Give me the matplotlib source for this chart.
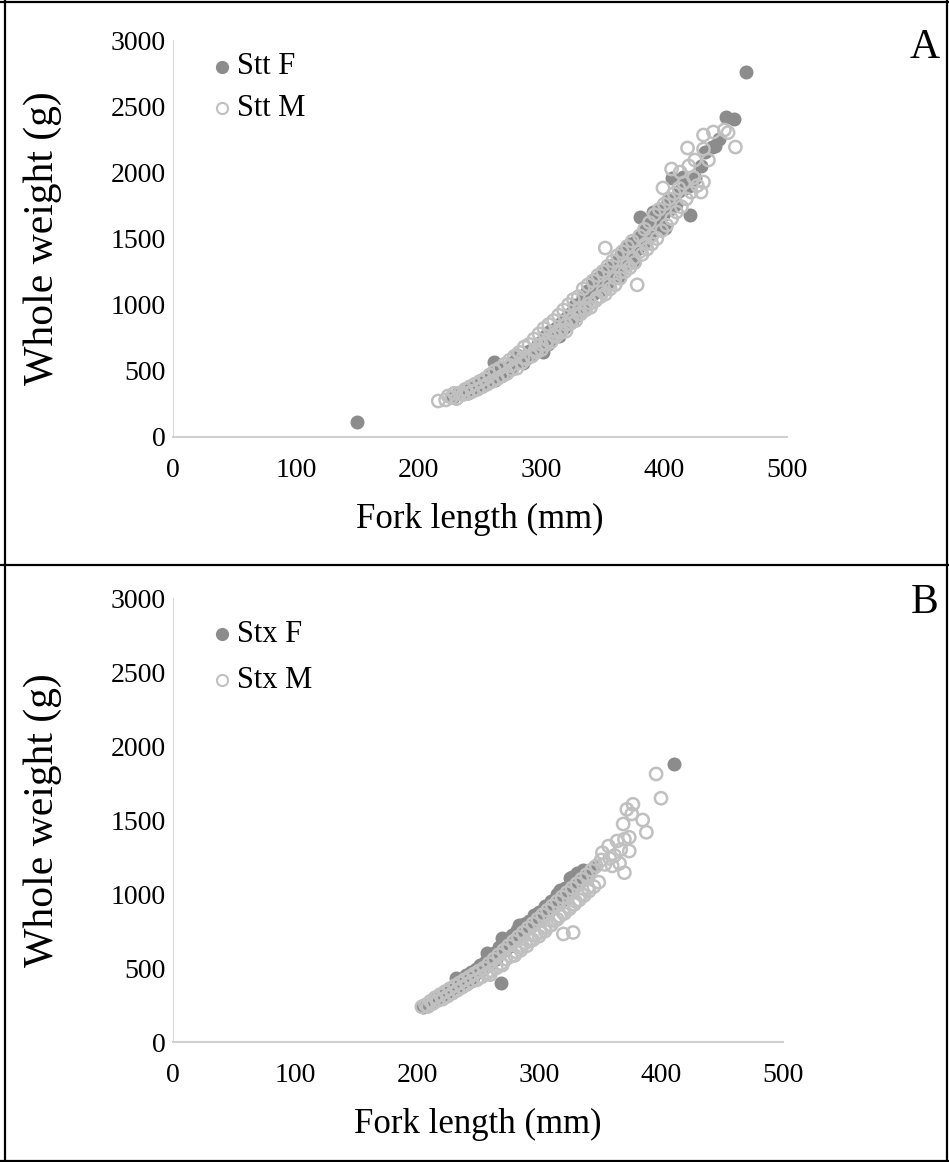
import matplotlib.pyplot as plt
from matplotlib.lines import Line2D

# ============================
# DATOS
# ============================
# Panel A - Stt hembras (F): (longitud furcal mm, peso g)
stt_f = [(150, 110), (228, 300), (232, 330), (236, 345), (240, 330), (243, 370), (246, 360),
         (250, 420), (253, 390), (256, 440), (258, 470), (261, 565), (262, 430), (265, 480),
         (268, 470), (270, 520), (272, 500), (275, 560), (277, 540), (280, 620), (282, 580),
         (285, 560), (287, 600), (290, 650), (292, 620), (295, 660), (297, 700), (300, 720),
         (301, 640), (303, 760), (305, 700), (307, 800), (308, 740), (310, 780), (312, 820),
         (314, 760), (316, 860), (318, 820), (320, 900), (322, 860), (324, 940), (325, 880),
         (327, 1000), (329, 920), (330, 960), (332, 1010), (334, 1060), (335, 980), (337, 1100),
         (338, 1040), (340, 1120), (342, 1080), (343, 1180), (345, 1140), (346, 1200), (348, 1100),
         (350, 1240), (351, 1160), (353, 1220), (355, 1280), (356, 1180), (358, 1300), (360, 1260),
         (362, 1340), (363, 1220), (365, 1380), (367, 1300), (368, 1420), (370, 1360), (372, 1460),
         (374, 1400), (375, 1320), (377, 1480), (378, 1420), (380, 1660), (381, 1520), (383, 1460),
         (385, 1580), (387, 1520), (389, 1640), (390, 1560), (391, 1700), (393, 1620), (395, 1600),
         (397, 1720), (399, 1680), (401, 1580), (403, 1780), (405, 1720), (406, 1957), (408, 1800),
         (410, 1760), (412, 1860), (415, 1964), (417, 1880), (420, 1900), (421, 1677), (425, 1960),
         (430, 2050), (433, 2150), (439, 2191), (441, 2200), (445, 2250), (450, 2420), (457, 2400),
         (467, 2760)]

# Panel A - Stt machos (M)
stt_m = [(216, 272), (222, 280), (224, 310), (227, 300), (229, 330), (231, 290), (234, 335),
         (236, 320), (238, 360), (240, 330), (242, 380), (244, 345), (246, 400), (248, 360),
         (250, 420), (252, 380), (254, 440), (256, 400), (258, 470), (260, 420), (262, 500),
         (264, 440), (266, 520), (268, 460), (270, 550), (272, 480), (274, 580), (276, 510),
         (278, 610), (280, 520), (282, 640), (284, 560), (286, 680), (288, 590), (290, 700),
         (292, 610), (294, 740), (296, 640), (298, 780), (300, 660), (302, 820), (304, 700),
         (306, 850), (308, 720), (310, 880), (312, 760), (314, 920), (316, 790), (318, 960),
         (320, 800), (322, 1000), (324, 860), (326, 1040), (328, 880), (330, 1060), (332, 930),
         (334, 1120), (336, 960), (338, 1150), (340, 980), (342, 1180), (344, 1030), (346, 1220),
         (348, 1060), (350, 1250), (352, 1428), (352, 1080), (354, 1290), (356, 1120), (358, 1330),
         (360, 1150), (362, 1370), (364, 1200), (366, 1400), (368, 1250), (370, 1440), (372, 1280),
         (374, 1480), (376, 1320), (378, 1150), (380, 1520), (382, 1380), (384, 1570), (386, 1420),
         (388, 1620), (390, 1460), (392, 1680), (394, 1500), (396, 1720), (398, 1560), (399, 1882),
         (400, 1760), (402, 1600), (404, 1800), (406, 2025), (406, 1650), (408, 1840), (410, 1700),
         (412, 1880), (413, 2002), (414, 1740), (416, 1920), (418, 1800), (419, 2184), (420, 2048),
         (422, 1850), (424, 1960), (425, 2093), (427, 1900), (430, 1851), (432, 1927), (432, 2176),
         (432, 2282), (436, 2093), (440, 2305), (449, 2320), (452, 2300), (458, 2191),
         (300, 700), (310, 770), (320, 850), (330, 930), (340, 1010), (350, 1100), (360, 1200),
         (370, 1300), (380, 1400), (390, 1520), (345, 1050), (355, 1150), (365, 1250), (375, 1350),
         (385, 1460), (325, 890), (335, 970), (315, 810), (305, 730), (295, 660), (285, 600),
         (275, 540)]

# Panel B - Stx hembras (F)
stx_f = [(205, 235), (208, 250), (212, 270), (215, 290), (218, 300), (221, 320), (224, 330),
         (227, 350), (230, 380), (232, 430), (234, 370), (236, 400), (238, 420), (240, 450),
         (242, 410), (244, 470), (246, 440), (248, 490), (250, 470), (252, 520), (254, 490),
         (256, 540), (257, 600), (259, 520), (261, 570), (263, 600), (265, 560), (267, 640),
         (269, 397), (270, 700), (272, 620), (274, 690), (276, 650), (278, 720), (280, 690),
         (282, 760), (284, 790), (286, 740), (288, 800), (290, 770), (292, 820), (294, 790),
         (296, 860), (298, 820), (300, 880), (302, 850), (305, 920), (307, 880), (310, 950),
         (312, 910), (315, 1000), (317, 1027), (319, 960), (321, 1040), (323, 1000), (325, 1108),
         (327, 1117), (329, 1060), (331, 1140), (333, 1090), (336, 1160), (340, 1120), (345, 1180),
         (411, 1880)]

# Panel B - Stx machos (M)
stx_m = [(204, 238), (207, 250), (209, 240), (211, 275), (213, 260), (215, 300), (217, 280),
         (219, 320), (221, 290), (223, 340), (225, 310), (227, 360), (229, 330), (231, 380),
         (233, 350), (235, 400), (237, 370), (239, 420), (241, 390), (243, 440), (245, 410),
         (247, 460), (249, 420), (251, 480), (253, 440), (255, 500), (257, 460), (259, 530),
         (261, 480), (263, 560), (265, 500), (267, 590), (269, 530), (271, 620), (273, 560),
         (275, 650), (277, 580), (279, 680), (281, 610), (283, 710), (285, 640), (287, 740),
         (289, 670), (291, 770), (293, 690), (295, 800), (297, 720), (299, 830), (301, 740),
         (303, 860), (305, 770), (307, 890), (309, 790), (311, 920), (313, 820), (315, 950),
         (317, 850), (319, 980), (321, 870), (323, 1010), (325, 900), (327, 1040), (329, 930),
         (331, 1070), (333, 960), (335, 1100), (337, 990), (339, 1130), (341, 1020), (343, 1160),
         (345, 1050), (347, 1190), (349, 1080), (351, 1230), (352, 1279), (354, 1200), (357, 1324),
         (358, 1240), (360, 1190), (362, 1260), (364, 1358), (366, 1207), (367, 1300), (369, 1473),
         (370, 1144), (370, 1370), (372, 1572), (374, 1383), (374, 1290), (376, 1541), (377, 1606),
         (385, 1500), (388, 1417), (396, 1811), (400, 1647),
         (260, 455), (270, 520), (280, 585), (290, 650), (300, 715), (310, 790), (320, 870),
         (330, 950), (340, 1040), (285, 620), (295, 690), (305, 750), (315, 830), (325, 910),
         (335, 1000), (320, 730), (328, 740)]

paneles = [("A", "Stt F", "Stt M", stt_f, stt_m),
           ("B", "Stx F", "Stx M", stx_f, stx_m)]

# ============================
# ESTILO
# ============================
plt.rcParams["font.family"] = ["Liberation Serif", "DejaVu Serif"]
color_f = "#8c8c8c"
color_m = "#c0c0c0"
W, H = 949, 1162

fig = plt.figure(figsize=(W / 100, H / 100), dpi=100)

# posiciones en pixeles: (x0, x500, y0, y3000)
posiciones = [(173, 787, 437, 40), (173, 783, 1042, 598)]
leyendas_y = [(67, 108), (634, 680)]
letras_y = [48, 603]

for (letra, lab_f, lab_m, datos_f, datos_m), (x0, x1, y0, y1), (ly1, ly2), ty in zip(
        paneles, posiciones, leyendas_y, letras_y):
    fx, fy = zip(*datos_f)
    mx, my = zip(*datos_m)
    ax = fig.add_axes([x0 / W, 1 - y0 / H, (x1 - x0) / W, (y0 - y1) / H])
    ax.scatter(fx, fy, s=82, color=color_f, edgecolors=color_f, linewidths=1, zorder=3)
    ax.scatter(mx, my, s=78, facecolors="none", edgecolors=color_m, linewidths=1.8, zorder=4)

    ax.set_xlim(0, 500)
    ax.set_ylim(0, 3000)
    ax.set_xticks(range(0, 501, 100))
    ax.set_yticks(range(0, 3001, 500))
    ax.tick_params(length=0, labelsize=20)
    ax.tick_params(axis="x", pad=15)
    ax.tick_params(axis="y", pad=5)
    for s in ["top", "right"]:
        ax.spines[s].set_visible(False)
    ax.spines["left"].set_color("#d9d9d9")
    ax.spines["bottom"].set_color("#d0d0d0")
    ax.spines["bottom"].set_linewidth(1.5)

    ax.set_xlabel("Fork length (mm)", fontsize=25)
    ax.set_ylabel("Whole weight (g)", fontsize=30)
    ax.xaxis.set_label_coords(0.5, -66 / (y0 - y1))
    ax.yaxis.set_label_coords((62 - x0) / (x1 - x0), 0.5)

    # leyenda
    for yy, lab, filled in [(ly1, lab_f, True), (ly2, lab_m, False)]:
        fig.add_artist(Line2D([222 / W], [1 - yy / H], marker="o", markersize=8,
                              markerfacecolor=color_f if filled else "none",
                              markeredgecolor=color_f if filled else color_m,
                              markeredgewidth=1.5, linestyle="none"))
        fig.text(237 / W, 1 - yy / H, lab, fontsize=22, va="center", ha="left")

    fig.text(925 / W, 1 - ty / H, letra, fontsize=30, ha="center", va="center")

# marco exterior y division
lw = 1.6
fig.add_artist(Line2D([5 / W, 5 / W], [0, 1], color="black", lw=lw))
fig.add_artist(Line2D([947 / W, 947 / W], [0, 1], color="black", lw=lw))
fig.add_artist(Line2D([0, 1], [1 - 1.5 / H, 1 - 1.5 / H], color="black", lw=lw))
fig.add_artist(Line2D([0, 1], [1 - 565 / H, 1 - 565 / H], color="black", lw=lw))
fig.add_artist(Line2D([0, 1], [1.5 / H, 1.5 / H], color="black", lw=lw))

fig.savefig("out.png", dpi=100)
